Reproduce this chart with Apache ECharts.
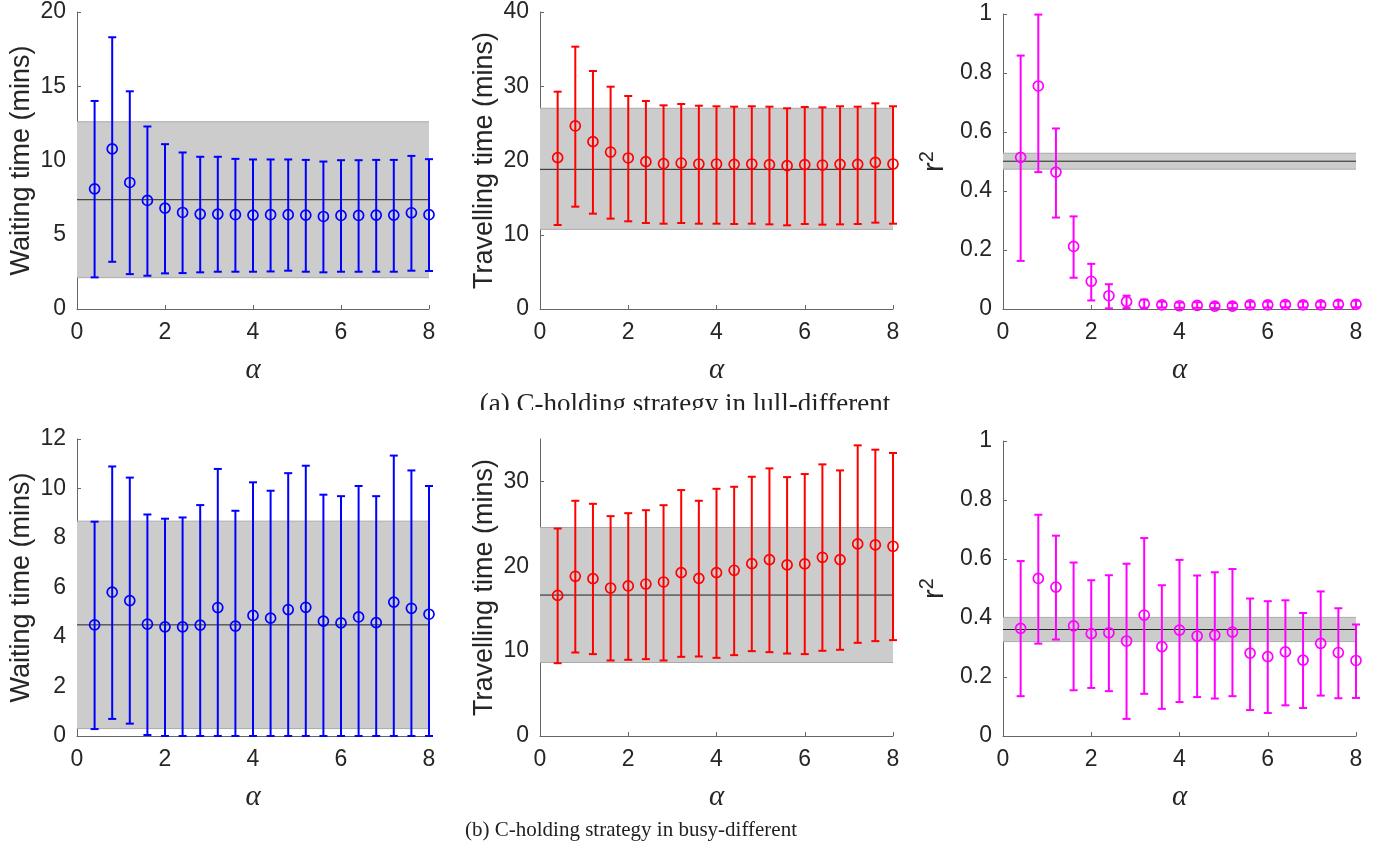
<!DOCTYPE html>
<html>
<head>
<meta charset="utf-8">
<script src="https://cdn.jsdelivr.net/npm/echarts@6/dist/echarts.min.js"></script>
<style>
html,body{margin:0;padding:0;background:#fff;}
#c{width:1385px;height:850px;}
</style>
</head>
<body>
<div id="c"></div>
<script>
// ---------- data ----------
const alpha = [0.4,0.8,1.2,1.6,2.0,2.4,2.8,3.2,3.6,4.0,4.4,4.8,5.2,5.6,6.0,6.4,6.8,7.2,7.6,8.0];

// (a) lull-different
const waitA_mean = [8.09,10.78,8.52,7.31,6.79,6.50,6.39,6.39,6.35,6.32,6.35,6.35,6.32,6.23,6.30,6.30,6.32,6.32,6.48,6.35];
const waitA_hi   = [14.01,18.30,14.66,12.29,11.10,10.54,10.25,10.25,10.11,10.07,10.07,10.07,10.04,9.93,10.02,10.02,10.04,10.04,10.31,10.09];
const waitA_lo   = [2.13,3.18,2.35,2.24,2.40,2.42,2.47,2.51,2.51,2.51,2.53,2.58,2.51,2.47,2.51,2.51,2.51,2.51,2.58,2.56];
const waitA_band = [2.11, 7.36, 12.61];

const travA_mean = [20.38,24.65,22.54,21.14,20.34,19.84,19.57,19.66,19.53,19.53,19.48,19.53,19.44,19.30,19.44,19.39,19.48,19.48,19.75,19.53];
const travA_hi   = [29.27,35.33,32.05,29.94,28.69,28.01,27.43,27.61,27.38,27.30,27.25,27.30,27.25,27.03,27.21,27.16,27.30,27.25,27.70,27.30];
const travA_lo   = [11.31,13.78,12.84,12.17,11.81,11.58,11.49,11.58,11.49,11.49,11.45,11.49,11.40,11.27,11.45,11.36,11.40,11.45,11.63,11.49];
const travA_band = [10.73, 18.81, 27.03];

const r2A_mean = [0.514,0.756,0.464,0.212,0.094,0.045,0.025,0.017,0.014,0.011,0.012,0.010,0.010,0.014,0.014,0.015,0.014,0.014,0.016,0.016];
const r2A_hi   = [0.859,0.998,0.612,0.314,0.153,0.084,0.045,0.032,0.025,0.022,0.023,0.020,0.020,0.025,0.025,0.026,0.025,0.025,0.028,0.028];
const r2A_lo   = [0.163,0.464,0.310,0.106,0.029,0.002,0.003,0.004,0.005,0.004,0.004,0.003,0.003,0.005,0.005,0.006,0.005,0.005,0.006,0.006];
const r2A_band = [0.474, 0.501, 0.528];

// (b) busy-different
const waitB_mean = [4.49,5.81,5.47,4.52,4.41,4.41,4.48,5.19,4.44,4.87,4.76,5.11,5.20,4.64,4.57,4.81,4.58,5.41,5.16,4.92];
const waitB_hi   = [8.66,10.89,10.44,8.95,8.78,8.83,9.33,10.79,9.10,10.25,9.91,10.62,10.92,9.75,9.69,10.10,9.69,11.33,10.73,10.10];
const waitB_lo   = [0.28,0.69,0.50,0.04,0,0,0,0,0,0,0,0,0,0,0,0,0,0,0,0];
const waitB_band = [0.30, 4.49, 8.68];

const travB_mean = [16.57,18.82,18.54,17.44,17.68,17.91,18.15,19.25,18.58,19.25,19.53,20.31,20.79,20.16,20.28,21.06,20.79,22.64,22.52,22.36];
const travB_hi   = [24.45,27.72,27.36,25.91,26.26,26.61,27.20,28.98,27.72,29.13,29.37,30.55,31.54,30.51,30.87,32.01,31.30,34.25,33.74,33.35];
const travB_lo   = [8.58,9.84,9.65,8.90,8.98,9.06,8.90,9.33,9.37,9.21,9.53,10.00,9.88,9.72,9.65,10.04,10.16,10.98,11.18,11.30];
const travB_band = [8.66, 16.61, 24.57];

const r2B_mean = [0.365,0.534,0.505,0.373,0.347,0.350,0.322,0.410,0.303,0.359,0.339,0.342,0.352,0.281,0.269,0.285,0.257,0.314,0.283,0.256];
const r2B_hi   = [0.593,0.750,0.679,0.588,0.528,0.545,0.584,0.671,0.511,0.597,0.544,0.555,0.566,0.466,0.457,0.460,0.417,0.490,0.433,0.378];
const r2B_lo   = [0.135,0.313,0.327,0.155,0.163,0.152,0.058,0.143,0.092,0.115,0.132,0.127,0.135,0.088,0.078,0.104,0.095,0.137,0.128,0.129];
const r2B_band = [0.320, 0.361, 0.402];

const xTicks = [0, 8, 2];           // min, max, interval
const captionA = '(a) C-holding strategy in lull-different';
const captionB = '(b) C-holding strategy in busy-different';

// ---------- panels ----------
const panels = [
  {mean:waitA_mean, hi:waitA_hi, lo:waitA_lo, band:waitA_band, color:'#0000ff', ymax:20, yint:5,  name:'Waiting time (mins)',    grid:{left:77,  top:12, width:352, height:297}, gap:42},
  {mean:travA_mean, hi:travA_hi, lo:travA_lo, band:travA_band, color:'#ff0000', ymax:40, yint:10, name:'Travelling time (mins)', grid:{left:540, top:12, width:353, height:297}, gap:42},
  {mean:r2A_mean,   hi:r2A_hi,   lo:r2A_lo,   band:r2A_band,   color:'#ff00ff', ymax:1,  yint:0.2,name:'r2',                     grid:{left:1003,top:14, width:353, height:295}, gap:54},
  {mean:waitB_mean, hi:waitB_hi, lo:waitB_lo, band:waitB_band, color:'#0000ff', ymax:12, yint:2,  name:'Waiting time (mins)',    grid:{left:77,  top:439,width:352, height:297}, gap:42},
  {mean:travB_mean, hi:travB_hi, lo:travB_lo, band:travB_band, color:'#ff0000', ymax:35, yint:10, name:'Travelling time (mins)', grid:{left:540, top:439,width:353, height:297}, gap:42},
  {mean:r2B_mean,   hi:r2B_hi,   lo:r2B_lo,   band:r2B_band,   color:'#ff00ff', ymax:1,  yint:0.2,name:'r2',                     grid:{left:1003,top:441,width:353, height:295}, gap:54}
];

const axisColor = '#666666';
const textColor = '#262626';
const sans = '"Liberation Sans", Arial, Helvetica, sans-serif';
const serif = '"Liberation Serif", "DejaVu Serif", serif';

const grids = [], xAxes = [], yAxes = [], series = [];

panels.forEach((p, i) => {
  grids.push(Object.assign({outerBoundsMode:'none', containLabel:false}, p.grid));
  xAxes.push({
    type:'value', gridIndex:i, min:xTicks[0], max:xTicks[1], interval:xTicks[2],
    axisLine:{show:true, onZero:false, lineStyle:{color:axisColor, width:1}},
    axisTick:{show:true, inside:true, length:4, lineStyle:{color:axisColor}},
    splitLine:{show:false},
    axisLabel:{color:textColor, fontSize:23, fontFamily:sans, margin:12},
    name:'α', nameLocation:'middle', nameGap:47,
    nameTextStyle:{color:textColor, fontSize:29, fontFamily:serif, fontStyle:'italic'}
  });
  const isR2 = p.name === 'r2';
  yAxes.push({
    type:'value', gridIndex:i, min:0, max:p.ymax, interval:p.yint,
    axisLine:{show:true, onZero:false, lineStyle:{color:axisColor, width:1}},
    axisTick:{show:true, inside:true, length:4, lineStyle:{color:axisColor}},
    splitLine:{show:false},
    axisLabel:{color:textColor, fontSize:23, fontFamily:sans, margin:11,
      showMaxLabel: (p.ymax % p.yint === 0) || isR2 ? true : false,
      formatter: v => (Math.abs(v / p.yint - Math.round(v / p.yint)) < 1e-6) ? String(+v.toFixed(2)) : ''},
    name: isR2 ? '{r|r}{s|2}' : p.name,
    nameLocation:'middle', nameGap:p.gap,
    nameTextStyle: isR2 ? {
      color:textColor, fontFamily:sans,
      rich:{ r:{fontSize:29, fontFamily:sans, color:textColor, verticalAlign:'bottom', lineHeight:32},
             s:{fontSize:20, fontFamily:sans, color:textColor, verticalAlign:'top', lineHeight:32} }
    } : {color:textColor, fontSize:27, fontFamily:sans}
  });

  // band
  series.push({
    type:'custom', xAxisIndex:i, yAxisIndex:i, silent:true, z:1,
    data:[[xTicks[0], xTicks[1], p.band[0], p.band[2]]],
    renderItem:(params, api) => {
      const a = api.coord([api.value(0), api.value(2)]);
      const b = api.coord([api.value(1), api.value(3)]);
      return {type:'group', children:[
        {type:'rect', shape:{x:a[0], y:b[1], width:b[0]-a[0], height:a[1]-b[1]}, style:{fill:'#cccccc'}},
        {type:'line', shape:{x1:a[0], y1:a[1], x2:b[0], y2:a[1]}, style:{stroke:'#aaaaaa', lineWidth:1}},
        {type:'line', shape:{x1:a[0], y1:b[1], x2:b[0], y2:b[1]}, style:{stroke:'#aaaaaa', lineWidth:1}}
      ]};
    }
  });
  // mean line
  series.push({
    type:'line', xAxisIndex:i, yAxisIndex:i, silent:true, z:2, symbol:'none',
    data:[[xTicks[0], p.band[1]], [xTicks[1], p.band[1]]],
    lineStyle:{color:'#222222', width:1}
  });
  // error bars
  const col = p.color;
  series.push({
    type:'custom', xAxisIndex:i, yAxisIndex:i, silent:true, z:3, clip:false,
    data: alpha.map((x, k) => [x, p.lo[k], p.hi[k]]),
    renderItem:(params, api) => {
      const lo = api.coord([api.value(0), api.value(1)]);
      const hi = api.coord([api.value(0), api.value(2)]);
      const w = 4;
      const st = {stroke:col, lineWidth:2};
      return {type:'group', children:[
        {type:'line', shape:{x1:lo[0], y1:lo[1], x2:hi[0], y2:hi[1]}, style:st},
        {type:'line', shape:{x1:lo[0]-w, y1:lo[1], x2:lo[0]+w, y2:lo[1]}, style:st},
        {type:'line', shape:{x1:hi[0]-w, y1:hi[1], x2:hi[0]+w, y2:hi[1]}, style:st}
      ]};
    }
  });
  // means
  series.push({
    type:'scatter', xAxisIndex:i, yAxisIndex:i, silent:true, z:4,
    symbol:'circle', symbolSize:10,
    itemStyle:{color:'rgba(0,0,0,0)', borderColor:col, borderWidth:1.7, opacity:1},
    data: alpha.map((x, k) => [x, p.mean[k]])
  });
});

const chart = echarts.init(document.getElementById('c'), null, {renderer:'canvas'});
chart.setOption({
  backgroundColor:'#ffffff',
  animation:false,
  grid:grids, xAxis:xAxes, yAxis:yAxes, series:series,
  graphic:[
    {type:'text', z:0, style:{text:captionA, x:0, y:0, font:'27px ' + serif, fill:'#222', textAlign:'center', textVerticalAlign:'middle'}, position:[685, 405]},
    {type:'rect', z:1, shape:{x:0, y:410, width:1385, height:18}, style:{fill:'#ffffff'}},
    {type:'text', z:0, style:{text:captionB, x:0, y:0, font:'21px ' + serif, fill:'#222', textAlign:'center', textVerticalAlign:'middle'}, position:[631, 830]}
  ]
});
</script>
</body>
</html>
